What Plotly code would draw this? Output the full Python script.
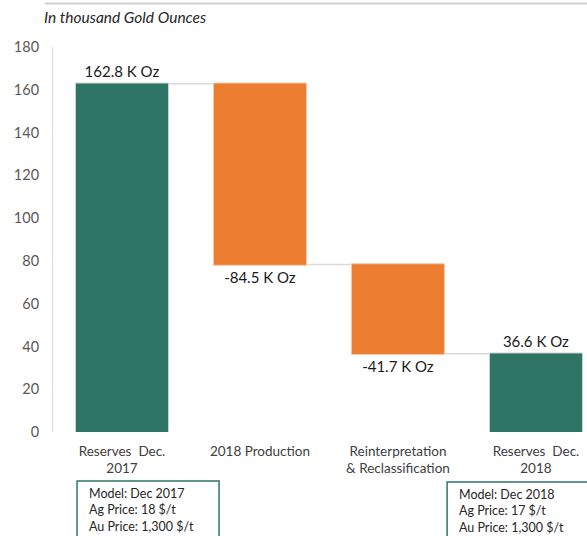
import plotly.graph_objects as go

categories = ["Reserves  Dec.<br>2017", "2018 Production", "Reinterpretation<br>& Reclassification", "Reserves  Dec.<br>2018"]
measures = ["absolute", "relative", "relative", "total"]
values = [162.8, -84.5, -41.7, 36.6]
labels = ["162.8 K Oz", "-84.5 K Oz", "-41.7 K Oz", "36.6 K Oz"]
box_left = ["Model: Dec 2017", "Ag Price: 18 $/t", "Au Price: 1,300 $/t"]
box_right = ["Model: Dec 2018", "Ag Price: 17 $/t", "Au Price: 1,300 $/t"]
y_ticks = [0, 20, 40, 60, 80, 100, 120, 140, 160, 180]

GREEN = "#2E7566"
ORANGE = "#ED7D31"
FONT = "Lato"

fig = go.Figure(go.Waterfall(
    x=list(range(len(categories))),
    measure=measures,
    y=values,
    text=labels,
    textposition="outside",
    textfont=dict(family=FONT, size=15, color="#1a1a1a"),
    width=0.674,
    decreasing=dict(marker=dict(color=ORANGE, line=dict(color="#f3c7a8", width=1))),
    increasing=dict(marker=dict(color=GREEN, line=dict(color="#cfcfcf", width=1))),
    totals=dict(marker=dict(color=GREEN, line=dict(color="#cfcfcf", width=1))),
    connector=dict(line=dict(color="#d9d9d9", width=1.5)),
    cliponaxis=False,
))

fig.update_layout(
    width=587, height=536,
    margin=dict(l=53, r=0, t=47, b=104),
    paper_bgcolor="white", plot_bgcolor="white",
    showlegend=False,
    font=dict(family=FONT, color="#404040"),
    xaxis=dict(
        range=[-0.5, 3.37],
        tickmode="array", tickvals=list(range(len(categories))), ticktext=categories,
        tickfont=dict(size=13.5, color="#404040"),
        showgrid=False, zeroline=False, showline=False, ticks="",
        ticklabelstandoff=9,
    ),
    yaxis=dict(
        range=[0, 180],
        tickmode="array", tickvals=y_ticks,
        tickfont=dict(size=14.5, color="#595959"),
        showgrid=False, zeroline=False,
        showline=True, linecolor="#d9d9d9", linewidth=1,
        ticks="", ticklabelstandoff=10,
    ),
)

# top rule and title
fig.add_shape(type="line", xref="paper", yref="paper", x0=-0.015, x1=1.01, y0=1.113, y1=1.113,
              line=dict(color="#d0d0d0", width=2))
fig.add_annotation(xref="paper", yref="paper", x=-0.021, y=1.078, xanchor="left", yanchor="middle",
                   text="<i>In thousand Gold Ounces</i>", showarrow=False,
                   font=dict(family=FONT, size=15.5, color="#262626"))

# info boxes
fig.add_shape(type="rect", xref="paper", yref="paper", x0=0.045, x1=0.311, y0=-0.127, y1=-0.3,
              line=dict(color=GREEN, width=1.5), fillcolor="rgba(0,0,0,0)")
fig.add_shape(type="rect", xref="paper", yref="paper", x0=0.738, x1=1.02, y0=-0.130, y1=-0.3,
              line=dict(color=GREEN, width=1.5), fillcolor="rgba(0,0,0,0)")
fig.add_annotation(xref="paper", yref="paper", x=0.064, y=-0.134, xanchor="left", yanchor="top",
                   align="left", text="<br>".join(box_left), showarrow=False,
                   font=dict(family=FONT, size=12.5, color="#262626"))
fig.add_annotation(xref="paper", yref="paper", x=0.757, y=-0.137, xanchor="left", yanchor="top",
                   align="left", text="<br>".join(box_right), showarrow=False,
                   font=dict(family=FONT, size=12.5, color="#262626"))

fig.write_html("out.html", config={"displayModeBar": False},
               post_script="document.body.style.margin='0';document.body.style.overflow='hidden';")
